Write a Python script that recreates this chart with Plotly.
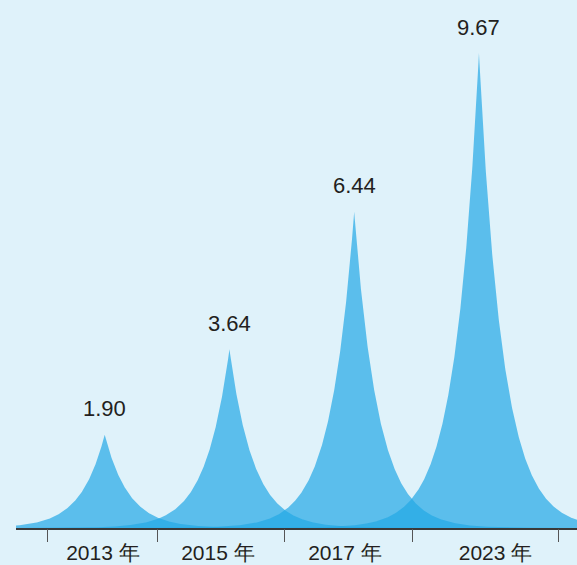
import numpy as np
import plotly.graph_objects as go

categories = ["2013 年", "2015 年", "2017 年", "2023 年"]
values = [1.90, 3.64, 6.44, 9.67]
value_labels = ["1.90", "3.64", "6.44", "9.67"]

# axis decoration positions (in category units)
label_pos = [-0.014, 0.908, 1.926, 3.133]
tick_pos = [-0.457, 0.427, 1.445, 2.471, 3.634]

BG = "#dff2fa"
FILL = "rgba(34,168,229,0.70)"
TEXT = "#231f20"
FONT = "Liberation Sans, Arial, sans-serif"
DECAY = 0.193  # spike shape decay (category units)
XR = [-0.711, 3.786]
YR = [0, 10.75]

fig = go.Figure()
for i, v in enumerate(values):
    xs = np.linspace(i - 1.8, i + 1.8, 1801)
    ys = v * np.exp(-np.abs(xs - i) / DECAY)
    fig.add_trace(go.Scatter(
        x=xs, y=ys, mode="lines", fill="tozeroy",
        fillcolor=FILL, line=dict(width=0, color="rgba(0,0,0,0)"),
        hoverinfo="skip", showlegend=False,
    ))
    fig.add_annotation(
        x=i, y=v, text=value_labels[i], showarrow=False,
        yanchor="middle", xanchor="center", yshift=26,
        font=dict(size=22, color=TEXT, family=FONT),
    )

# invisible trace so the tick axis is drawn
fig.add_trace(go.Scatter(x=[XR[0]], y=[0], xaxis="x2", mode="markers",
                         marker=dict(opacity=0), hoverinfo="skip",
                         showlegend=False))

fig.update_layout(
    width=577, height=565,
    margin=dict(l=16, r=0, t=0, b=37),
    paper_bgcolor=BG, plot_bgcolor=BG,
    xaxis=dict(
        range=XR, tickvals=label_pos, ticktext=categories,
        ticks="", showline=True, linecolor="#3a3a3a", linewidth=1.5,
        showgrid=False, zeroline=False, ticklabelstandoff=5,
        tickfont=dict(size=21, color=TEXT, family=FONT),
    ),
    xaxis2=dict(
        range=XR, overlaying="x", anchor="y", side="bottom",
        tickvals=tick_pos, ticks="outside", ticklen=13, tickwidth=1.3,
        tickcolor="#555555", showticklabels=False, showline=False,
        showgrid=False, zeroline=False,
    ),
    yaxis=dict(range=YR, visible=False, showgrid=False, zeroline=False),
)

fig.write_html(
    "out.html",
    config={"displayModeBar": False},
    post_script="document.body.style.margin='0';document.body.style.padding='0';"
                "document.body.style.background='#dff2fa';",
)
